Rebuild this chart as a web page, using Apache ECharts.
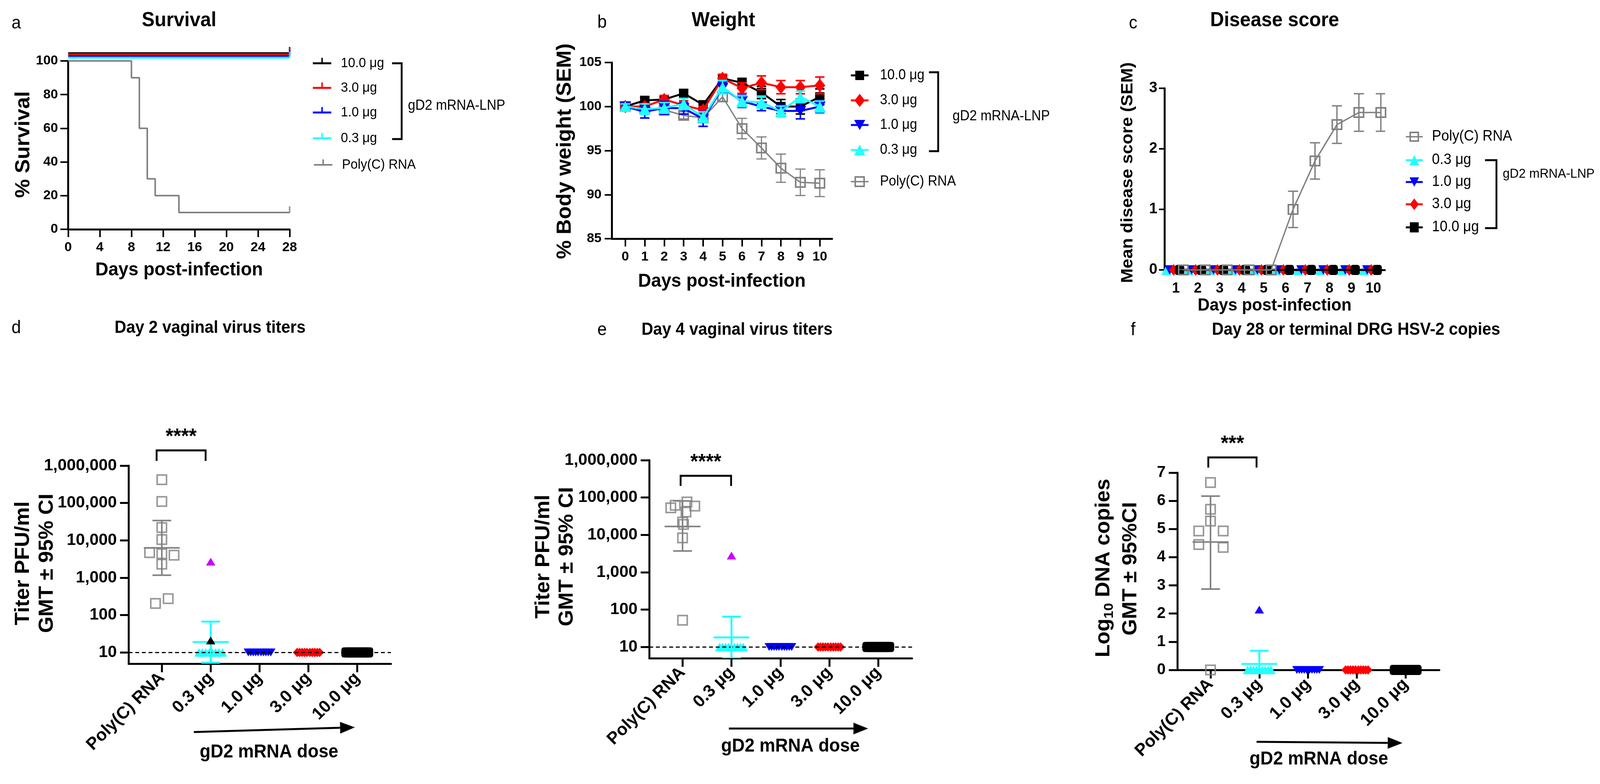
<!DOCTYPE html>
<html>
<head>
<meta charset="utf-8">
<script src="https://cdn.jsdelivr.net/npm/echarts@6/dist/echarts.min.js"></script>
<style>
html,body{margin:0;padding:0;background:#fff;overflow:hidden;}
#main{width:100vw;height:100vh;}
</style>
</head>
<body>
<div id="main"></div>
<script>
var FONT = '"Liberation Sans", Arial, Helvetica, sans-serif';
var BLACK = '#000000', RED = '#ff0000', BLUE = '#0000ff', CYAN = '#21ffff', GRAY = '#808080', MAGENTA = '#cc00ff', VIOLET = '#2200ff';

// ---------- data ----------
var doseLabels = ['10.0 μg', '3.0 μg', '1.0 μg', '0.3 μg'];
var groupLabels = ['Poly(C) RNA', '0.3 μg', '1.0 μg', '3.0 μg', '10.0 μg'];

// a  survival (vaccine groups all 100 %, drawn stacked just above 100 as in the figure)
var survDays = [0, 8, 9, 10, 11, 14, 28];
var survPolyC = [100, 90, 60, 30, 20, 10, 10];
var survDoseLevel = [104.6, 103.9, 102.8, 101.9];
var survSpan = [0, 28];

// b  weight
var weightDays = [0, 1, 2, 3, 4, 5, 6, 7, 8, 9, 10];
var weight10 = [100, 100.7, 100.8, 101.5, 100.2, 103.2, 102.7, 101.6, 100.0, 100.0, 101.1];
var weight10Sem = [0.2, 0.3, 0.3, 0.3, 0.3, 0.4, 0.5, 0.7, 0.8, 0.85, 0.9];
var weight3 = [100, 100.0, 100.8, 100.15, 99.6, 103.2, 102.1, 102.7, 102.2, 102.2, 102.4];
var weight3Sem = [0.2, 0.3, 0.45, 0.5, 0.4, 0.45, 0.6, 0.78, 0.75, 0.75, 0.95];
var weight1 = [100, 99.4, 99.85, 99.8, 98.6, 102.1, 100.6, 100.0, 99.5, 99.5, 100.0];
var weight1Sem = [0.3, 0.7, 0.75, 0.65, 0.85, 0.6, 0.7, 0.47, 0.65, 0.9, 0.7];
var weight03 = [100, 99.7, 99.85, 100.3, 98.8, 102.2, 100.6, 100.5, 99.45, 101.1, 100.0];
var weight03Sem = [0.3, 0.6, 0.6, 0.63, 0.6, 0.75, 0.62, 0.68, 0.6, 0.66, 0.62];
var weightPolyC = [100, 99.8, 99.6, 99.0, 98.7, 101.1, 97.5, 95.3, 93.0, 91.4, 91.3];
var weightPolyCSem = [0.3, 0.3, 0.3, 0.4, 0.5, 0.5, 1.16, 1.25, 1.6, 1.5, 1.52];

// c  disease score
var scoreDays = [1, 2, 3, 4, 5, 6, 7, 8, 9, 10];
var scorePolyC = [0, 0, 0, 0, 0, 1.0, 1.8, 2.4, 2.6, 2.6];
var scorePolyCSem = [0, 0, 0, 0, 0, 0.3, 0.3, 0.31, 0.31, 0.31];
var scoreDose = [0, 0, 0, 0, 0, 0, 0, 0, 0, 0];

// d  day 2 titers (PFU/ml)
var d2PolyC = [420000, 110000, 22000, 10500, 4400, 2300, 4700, 4000, 205, 275];
var d2PolyCGmt = [6300, 1170, 34000];
var d2Dose03 = [10, 10, 10, 10, 10, 10, 10, 10];
var d2Dose03Black = [21];
var d2Dose03Magenta = [2700];
var d2Dose03Gmt = [19, 5.3, 67];
var d2Dose1 = [10, 10, 10, 10, 10, 10, 10, 10, 10, 10];
var d2Dose3 = [10, 10, 10, 10, 10, 10, 10, 10, 10, 10];
var d2Dose10 = [10, 10, 10, 10, 10, 10, 10, 10, 10, 10];

// e  day 4 titers
var d4PolyC = [76000, 62000, 59000, 53000, 41000, 22000, 19000, 8300, 52];
var d4PolyCGmt = [16800, 3700, 81000];
var d4Dose03 = [10, 10, 10, 10, 10, 10, 10, 10, 10];
var d4Dose03Magenta = [2800];
var d4Dose03Gmt = [18, 5, 65];
var d4Dose1 = [10, 10, 10, 10, 10, 10, 10, 10, 10, 10];
var d4Dose3 = [10, 10, 10, 10, 10, 10, 10, 10, 10, 10];
var d4Dose10 = [10, 10, 10, 10, 10, 10, 10, 10, 10, 10];

// f  DRG log10 copies
var drgPolyC = [6.65, 5.7, 5.28, 4.93, 4.93, 4.45, 4.35, 0];
var drgPolyCGmt = [4.54, 2.87, 6.17];
var drgDose03 = [0, 0, 0, 0, 0, 0, 0, 0, 0];
var drgDose03Blue = [2.14];
var drgDose03Gmt = [0.21, -0.26, 0.68];
var drgDose1 = [0, 0, 0, 0, 0, 0, 0, 0, 0, 0];
var drgDose3 = [0, 0, 0, 0, 0, 0, 0, 0, 0, 0];
var drgDose10 = [0, 0, 0, 0, 0, 0, 0, 0, 0, 0];

var titerTicks = [10, 100, 1000, 10000, 100000, 1000000];

// horizontal spread of overlapping dots (category units)
var jit10 = [-0.23, -0.18, -0.13, -0.08, -0.03, 0.03, 0.08, 0.13, 0.18, 0.23];
var jit9 = [-0.24, -0.18, -0.12, -0.06, 0, 0.06, 0.12, 0.18, 0.24];
var jit8 = [-0.24, -0.17, -0.1, -0.03, 0.03, 0.1, 0.17, 0.24];
var d2PolyJit = [0, 0, 0, 0, 0, 0, -0.25, 0.25, -0.13, 0.13];
var d4PolyJit = [0.09, -0.15, 0.25, -0.24, 0.07, 0, 0.02, 0, 0];
var drgPolyJit = [0, 0, 0, -0.24, 0.26, -0.24, 0.26, 0];
var scoreOffset = {c03: -0.43, c1: -0.28, c3: -0.1, c10: 0.17, poly: 0.34};

// layout is drawn on a 4342 x 2007 sheet and fitted to the real viewport
var SX = (window.innerWidth || 4342) / 4342;
var SY = (window.innerHeight || 2007) / 2007;
function X(v) { return v * SX; }
function Y(v) { return v * SY; }

// ---------- helpers ----------
function pairs(xs, ys, dx) {
    return ys.map(function (v, i) { return [xs[i] + (dx || 0), v]; });
}
function spread(cat, vals, jit) {
    return vals.map(function (v, i) { return [cat + (jit ? jit[i] : 0), v]; });
}
function axLine(w) { return {show: true, onZero: false, lineStyle: {color: '#000', width: w}}; }
function axTick(len, w, custom) {
    var t = {show: true, inside: false, length: len, lineStyle: {color: '#000', width: w}};
    if (custom) t.customValues = custom;
    return t;
}
function axLabel(size, margin, extra) {
    var l = {show: true, color: '#000', fontFamily: FONT, fontWeight: 'bold', fontSize: size, margin: margin};
    for (var k in extra) l[k] = extra[k];
    return l;
}
function errBars(ax, rows, color, lw, cap, z) {
    return {
        type: 'custom', xAxisIndex: ax, yAxisIndex: ax, data: rows, z: z || 3, clip: true, silent: true,
        renderItem: function (params, api) {
            var p1 = api.coord([api.value(0), api.value(1)]);
            var p2 = api.coord([api.value(0), api.value(2)]);
            var st = {stroke: color, lineWidth: lw};
            return {type: 'group', children: [
                {type: 'line', shape: {x1: p1[0], y1: p1[1], x2: p2[0], y2: p2[1]}, style: st},
                {type: 'line', shape: {x1: p1[0] - cap, y1: p1[1], x2: p1[0] + cap, y2: p1[1]}, style: st},
                {type: 'line', shape: {x1: p2[0] - cap, y1: p2[1], x2: p2[0] + cap, y2: p2[1]}, style: st}
            ]};
        }
    };
}
function gmtBar(ax, cat, g, color, lw, half, cap) {
    return {
        type: 'custom', xAxisIndex: ax, yAxisIndex: ax, data: [[cat, g[0], g[1], g[2]]], z: 6, clip: true, silent: true,
        renderItem: function (params, api) {
            var x = api.value(0);
            var m = api.coord([x, api.value(1)]);
            var lo = api.coord([x, api.value(2)]);
            var hi = api.coord([x, api.value(3)]);
            var st = {stroke: color, lineWidth: lw};
            return {type: 'group', children: [
                {type: 'line', shape: {x1: m[0] - half, y1: m[1], x2: m[0] + half, y2: m[1]}, style: st},
                {type: 'line', shape: {x1: lo[0], y1: lo[1], x2: hi[0], y2: hi[1]}, style: st},
                {type: 'line', shape: {x1: lo[0] - cap, y1: lo[1], x2: lo[0] + cap, y2: lo[1]}, style: st},
                {type: 'line', shape: {x1: hi[0] - cap, y1: hi[1], x2: hi[0] + cap, y2: hi[1]}, style: st}
            ]};
        }
    };
}
function semRows(xs, ys, sem, dx) {
    return ys.map(function (v, i) { return [xs[i] + (dx || 0), v - sem[i], v + sem[i]]; });
}
function dots(ax, data, symbol, size, color, rotate, z) {
    var s = {type: 'scatter', xAxisIndex: ax, yAxisIndex: ax, data: data, symbol: symbol, symbolSize: size,
        symbolRotate: rotate || 0, clip: false, z: z || 4, itemStyle: {color: color, opacity: 1}};
    if (color === 'hollow') s.itemStyle = {color: 'rgba(0,0,0,0)', borderColor: GRAY, borderWidth: 4};
    return s;
}

// ---------- series ----------
var series = [];

// a
var survColors = [BLACK, RED, BLUE, CYAN];
survDoseLevel.forEach(function (v, i) {
    series.push({type: 'line', name: doseLabels[i], xAxisIndex: 0, yAxisIndex: 0, clip: false, symbol: 'none',
        data: survSpan.map(function (d) { return [d, v]; }), lineStyle: {color: survColors[i], width: 5}, z: 3});
    series.push({type: 'scatter', xAxisIndex: 0, yAxisIndex: 0, clip: false, symbol: 'rect', symbolSize: [4, 16],
        symbolOffset: [0, -8], data: [[survSpan[1], v]], itemStyle: {color: survColors[i]}, z: 3});
});
series.push({type: 'line', name: 'Poly(C) RNA', xAxisIndex: 0, yAxisIndex: 0, step: 'end', symbol: 'none',
    data: pairs(survDays, survPolyC), lineStyle: {color: GRAY, width: 4}, z: 2});
series.push({type: 'scatter', xAxisIndex: 0, yAxisIndex: 0, clip: false, symbol: 'rect', symbolSize: [4, 16],
    symbolOffset: [0, -8], data: [[survDays[survDays.length - 1], survPolyC[survPolyC.length - 1]]], itemStyle: {color: GRAY}, z: 3});

// b
series.push({type: 'line', xAxisIndex: 1, yAxisIndex: 1, data: pairs(weightDays, weightPolyC), symbol: 'rect', symbolSize: 24,
    itemStyle: {color: 'rgba(0,0,0,0)', borderColor: GRAY, borderWidth: 4}, lineStyle: {color: GRAY, width: 3.5}, z: 2});
series.push(errBars(1, semRows(weightDays, weightPolyC, weightPolyCSem), GRAY, 3, 13, 2));
var weightSets = [
    [weight10, weight10Sem, BLACK, 'rect', 24, 0],
    [weight3, weight3Sem, RED, 'diamond', [28, 34], 0],
    [weight1, weight1Sem, BLUE, 'triangle', [30, 26], 180],
    [weight03, weight03Sem, CYAN, 'triangle', [30, 28], 0]
];
weightSets.forEach(function (s, i) {
    series.push(errBars(1, semRows(weightDays, s[0], s[1]), s[2], 4, 12, 3 + i));
    series.push({type: 'line', xAxisIndex: 1, yAxisIndex: 1, data: pairs(weightDays, s[0]), symbol: s[3], symbolSize: s[4],
        symbolRotate: s[5], itemStyle: {color: s[2]}, lineStyle: {color: s[2], width: 5}, z: 3 + i});
});

// c
var scoreSets = [
    [scoreOffset.c03, CYAN, 'triangle', [26, 26], 0],
    [scoreOffset.c1, BLUE, 'triangle', [26, 24], 180],
    [scoreOffset.c3, RED, 'diamond', [24, 30], 0],
    [scoreOffset.c10, BLACK, 'roundRect', [24, 26], 0]
];
scoreSets.forEach(function (s, i) {
    series.push({type: 'line', xAxisIndex: 2, yAxisIndex: 2, data: pairs(scoreDays, scoreDose, s[0]), symbol: s[2], symbolSize: s[3],
        symbolRotate: s[4], clip: false, itemStyle: {color: s[1]}, lineStyle: {color: s[1], width: 5}, z: 3 + i});
});
series.push(errBars(2, semRows(scoreDays, scorePolyC, scorePolyCSem, scoreOffset.poly), GRAY, 3.5, 13, 8));
series.push({type: 'line', xAxisIndex: 2, yAxisIndex: 2, data: pairs(scoreDays, scorePolyC, scoreOffset.poly), symbol: 'rect', symbolSize: 24,
    clip: false, itemStyle: {color: 'rgba(0,0,0,0)', borderColor: GRAY, borderWidth: 4}, lineStyle: {color: GRAY, width: 3.5}, z: 9});

// d, e, f dot plots
var dashed = {silent: true, symbol: 'none', label: {show: false}, lineStyle: {type: [10, 7], color: '#000', width: 3}, data: [{yAxis: 10}]};
function dotPanel(ax, polyVals, polyJit, polyGmt, c03, c03Jit, extra, c03Gmt, v1, v3, v10, withDash) {
    var s1 = dots(ax, spread(1, c03, c03Jit), 'triangle', [24, 22], CYAN, 0, 4);
    if (withDash) s1.markLine = dashed;
    series.push(s1);
    series.push(dots(ax, spread(2, v1, jit10), 'triangle', [24, 20], BLUE, 180, 4));
    series.push(dots(ax, spread(3, v3, jit10), 'diamond', [22, 24], RED, 0, 4));
    series.push(dots(ax, spread(4, v10, jit10), 'roundRect', [24, 26], BLACK, 0, 4));
    extra.forEach(function (e) { series.push(dots(ax, spread(1, e[0]), 'triangle', [24, 20], e[1], 0, 7)); });
    series.push(dots(ax, spread(0, polyVals, polyJit), 'rect', 24, 'hollow', 0, 5));
    series.push(gmtBar(ax, 0, polyGmt, GRAY, 4, 46, 24));
    series.push(gmtBar(ax, 1, c03Gmt, CYAN, 5, 46, 24));
}
dotPanel(3, d2PolyC, d2PolyJit, d2PolyCGmt, d2Dose03, jit8, [[d2Dose03Black, BLACK], [d2Dose03Magenta, MAGENTA]], d2Dose03Gmt, d2Dose1, d2Dose3, d2Dose10, true);
dotPanel(4, d4PolyC, d4PolyJit, d4PolyCGmt, d4Dose03, jit9, [[d4Dose03Magenta, MAGENTA]], d4Dose03Gmt, d4Dose1, d4Dose3, d4Dose10, true);
dotPanel(5, drgPolyC, drgPolyJit, drgPolyCGmt, drgDose03, jit9, [[drgDose03Blue, VIOLET]], drgDose03Gmt, drgDose1, drgDose3, drgDose10, false);

// ---------- graphic (titles, legends, brackets, arrows) ----------
function txt(x, y, s, size, bold, align, rot, rich) {
    return {type: 'text', x: x, y: y, rotation: rot || 0, z: 100, silent: true,
        style: {text: s, fill: '#000', fontSize: size, fontWeight: bold ? 'bold' : 'normal', fontFamily: FONT,
            align: align || 'center', verticalAlign: 'middle', rich: rich}};
}
function seg(pts, w, color) {
    return {type: 'polyline', z: 100, silent: true, shape: {points: pts}, style: {stroke: color || '#000', lineWidth: w, fill: null}};
}
function mark(kind, cx, cy, w, h, color) {
    if (kind === 'rect') return {type: 'rect', z: 101, shape: {x: cx - w / 2, y: cy - h / 2, width: w, height: h}, style: {fill: color}};
    if (kind === 'hollow') return {type: 'rect', z: 101, shape: {x: cx - w / 2, y: cy - h / 2, width: w, height: h}, style: {fill: 'rgba(0,0,0,0)', stroke: color, lineWidth: 4}};
    var pts;
    if (kind === 'up') pts = [[cx, cy - h / 2], [cx + w / 2, cy + h / 2], [cx - w / 2, cy + h / 2]];
    if (kind === 'down') pts = [[cx, cy + h / 2], [cx + w / 2, cy - h / 2], [cx - w / 2, cy - h / 2]];
    if (kind === 'diamond') pts = [[cx, cy - h / 2], [cx + w / 2, cy], [cx, cy + h / 2], [cx - w / 2, cy]];
    return {type: 'polygon', z: 101, shape: {points: pts}, style: {fill: color}};
}
function arrow(x1, y1, x2, y2) {
    var a = Math.atan2(y2 - y1, x2 - x1), L = 40, W = 15;
    var bx = x2 - L * Math.cos(a), by = y2 - L * Math.sin(a);
    return [seg([[x1, y1], [bx, by]], 5),
        {type: 'polygon', z: 100, shape: {points: [[x2, y2], [bx - W * Math.sin(a), by + W * Math.cos(a)], [bx + W * Math.sin(a), by - W * Math.cos(a)]]}, style: {fill: '#000'}}];
}
function sigBracket(xl, xr, yt, yb, stars) {
    return [seg([[xl, yb], [xl, yt], [xr, yt], [xr, yb]], 5), txt((xl + xr) / 2, yt - 34, stars, 54, true)];
}
function groupBracket(xa, xb, y1, y2, lx, ly, size) {
    return [seg([[xa, y1], [xb, y1], [xb, y2], [xa, y2]], 5), txt(lx, ly, 'gD2 mRNA-LNP', size, false, 'left')];
}

var g = [];
var UP = Math.PI / 2;
// row 1 headings
g.push(txt(44, 60, 'a', 46), txt(486, 53, 'Survival', 52, true));
g.push(txt(1634, 58, 'b', 46), txt(1963, 53, 'Weight', 52, true));
g.push(txt(3075, 60, 'c', 46), txt(3459, 53, 'Disease score', 52, true));
// axis titles row 1
g.push(txt(65, 370, '% Survival', 54, true, 'center', UP), txt(486, 691, 'Days post-infection', 49, true));
g.push(txt(1534, 387, '% Body weight (SEM)', 54, true, 'center', UP), txt(1959, 720, 'Days post-infection', 49, true));
g.push(txt(3061, 442, 'Mean disease score (SEM)', 45, true, 'center', UP), txt(3459, 783, 'Days post-infection', 45, true));

// legend a
var legA = [162, 225, 288, 354];
var legColors = [BLACK, RED, BLUE, CYAN];
legA.forEach(function (y, i) {
    g.push(seg([[849, y], [899, y]], 5, legColors[i]), seg([[874, y], [874, y - 14]], 4, legColors[i]), txt(925, y, doseLabels[i], 35, false, 'left'));
});
g.push(seg([[852, 422], [902, 422]], 4, GRAY), seg([[877, 422], [877, 408]], 4, GRAY), txt(928, 422, 'Poly(C) RNA', 35, false, 'left'));
g = g.concat(groupBracket(1064, 1090, 162, 356, 1107, 271, 36));

// legend b
var legB = [193, 257, 320, 384];
var legBMarks = [['rect', 24, 24], ['diamond', 28, 34], ['down', 30, 26], ['up', 30, 28]];
legB.forEach(function (y, i) {
    g.push(seg([[2309, y], [2357, y]], 5, legColors[i]), mark(legBMarks[i][0], 2333, y, legBMarks[i][1], legBMarks[i][2], legColors[i]),
        txt(2388, y, doseLabels[i], 36, false, 'left'));
});
g.push(seg([[2309, 465], [2357, 465]], 3.5, GRAY), mark('hollow', 2333, 465, 24, 24, GRAY), txt(2388, 465, 'Poly(C) RNA', 36, false, 'left'));
g = g.concat(groupBracket(2521, 2546, 185, 387, 2585, 298, 36));

// legend c
g.push(seg([[3815, 350], [3861, 350]], 3.5, GRAY), mark('hollow', 3838, 350, 22, 22, GRAY), txt(3886, 350, 'Poly(C) RNA', 38, false, 'left'));
var legC = [410, 466, 523, 582];
var legCColors = [CYAN, BLUE, RED, BLACK];
var legCMarks = [['up', 26, 26], ['down', 26, 24], ['diamond', 24, 30], ['rect', 24, 26]];
var legCLabels = [doseLabels[3], doseLabels[2], doseLabels[1], doseLabels[0]];
legC.forEach(function (y, i) {
    g.push(seg([[3815, y], [3861, y]], 5, legCColors[i]), mark(legCMarks[i][0], 3838, y, legCMarks[i][1], legCMarks[i][2], legCColors[i]),
        txt(3886, y, legCLabels[i], 38, false, 'left'));
});
g = g.concat(groupBracket(4030, 4061, 410, 584, 4078, 446, 34));

// row 2 headings
g.push(txt(44, 840, 'd', 46), txt(570, 840, 'Day 2 vaginal virus titers', 44, true));
g.push(txt(1634, 845, 'e', 46), txt(2000, 845, 'Day 4 vaginal virus titers', 44, true));
g.push(txt(3075, 845, 'f', 46), txt(3680, 845, 'Day 28 or terminal DRG HSV-2 copies', 44, true));

// row 2 axis titles
g.push(txt(64, 1442, 'Titer PFU/ml', 54, true, 'center', UP), txt(128, 1442, 'GMT ± 95% CI', 54, true, 'center', UP));
g.push(txt(1476, 1425, 'Titer PFU/ml', 54, true, 'center', UP), txt(1539, 1425, 'GMT ± 95% CI', 54, true, 'center', UP));
g.push(txt(2996, 1454, '{n|Log}{s|10}{n| DNA copies}', 54, true, 'center', UP, {
    n: {fontSize: 54, fontWeight: 'bold', fontFamily: FONT, lineHeight: 64, verticalAlign: 'middle'},
    s: {fontSize: 36, fontWeight: 'bold', fontFamily: FONT, lineHeight: 30, verticalAlign: 'bottom'}
}));
g.push(txt(3069, 1456, 'GMT ± 95%CI', 54, true, 'center', UP));

// significance brackets
g = g.concat(sigBracket(425, 558, 1153, 1180, '****'));
g = g.concat(sigBracket(1847, 1984, 1218, 1244, '****'));
g = g.concat(sigBracket(3279, 3410, 1171, 1197, '***'));

// dose arrows
g = g.concat(arrow(526, 1874, 963, 1862), [txt(730, 1926, 'gD2 mRNA dose', 48, true)]);
g = g.concat(arrow(1978, 1865, 2356, 1865), [txt(2145, 1911, 'gD2 mRNA dose', 48, true)]);
g = g.concat(arrow(3410, 1899, 3806, 1902), [txt(3579, 1944, 'gD2 mRNA dose', 48, true)]);

// ---------- axes ----------
var catIdx = groupLabels.map(function (n, i) { return i; });
function catAxis(gi) {
    return {type: 'value', gridIndex: gi, min: -0.68, max: 4.69, axisLine: axLine(5), axisTick: axTick(22, 5, catIdx),
        axisLabel: axLabel(44, 30, {customValues: catIdx, rotate: 45, formatter: function (v) { return groupLabels[Math.round(v)]; }}),
        splitLine: {show: false}};
}
function titerAxis(gi) {
    return {type: 'log', logBase: 10, gridIndex: gi, min: 5, max: 1000000, axisLine: axLine(5), axisTick: axTick(22, 5, titerTicks),
        axisLabel: axLabel(42, 30, {customValues: titerTicks, formatter: function (v) { return Math.round(v).toLocaleString('en-US'); }}),
        splitLine: {show: false}, minorTick: {show: false}};
}
function box(l, t, w, h) { return {left: X(l), top: Y(t), width: X(w), height: Y(h)}; }

var chart = echarts.init(document.getElementById('main'));
var option = {
    backgroundColor: '#ffffff',
    animation: false,
    textStyle: {fontFamily: FONT},
    grid: [
        box(185, 156, 601, 431),
        box(1660, 160, 598, 451),
        box(3160, 226, 598, 465),
        box(349, 1192, 712, 507),
        box(1762, 1178, 713, 507),
        box(3195, 1210, 711, 505)
    ],
    xAxis: [
        {type: 'value', gridIndex: 0, min: 0, max: 28, interval: 4, axisLine: axLine(5), axisTick: axTick(20, 4),
            axisLabel: axLabel(34, 30), splitLine: {show: false}},
        {type: 'value', gridIndex: 1, min: -0.7, max: 10.63, axisLine: axLine(5), axisTick: axTick(20, 4, weightDays),
            axisLabel: axLabel(34, 30, {customValues: weightDays}), splitLine: {show: false}},
        {type: 'value', gridIndex: 2, min: 0.48, max: 10.52, axisLine: axLine(5), axisTick: {show: false},
            axisLabel: axLabel(36, 30, {customValues: scoreDays}), splitLine: {show: false}},
        catAxis(3), catAxis(4), catAxis(5)
    ],
    yAxis: [
        {type: 'value', gridIndex: 0, min: 0, max: 100, interval: 20, axisLine: axLine(5), axisTick: axTick(20, 4),
            axisLabel: axLabel(34, 26), splitLine: {show: false}},
        {type: 'value', gridIndex: 1, min: 85, max: 105, interval: 5, axisLine: axLine(5), axisTick: axTick(18, 4),
            axisLabel: axLabel(34, 26), splitLine: {show: false}},
        {type: 'value', gridIndex: 2, min: 0, max: 3, interval: 1, axisLine: axLine(5), axisTick: axTick(14, 4),
            axisLabel: axLabel(38, 18), splitLine: {show: false}},
        titerAxis(3), titerAxis(4),
        {type: 'value', gridIndex: 5, min: 0, max: 7, interval: 1, axisLine: axLine(5), axisTick: axTick(22, 5),
            axisLabel: axLabel(40, 30), splitLine: {show: false}}
    ],
    series: series,
    graphic: [{type: 'group', scaleX: SX, scaleY: SY, children: g}]
};
chart.setOption(option);
</script>
</body>
</html>
